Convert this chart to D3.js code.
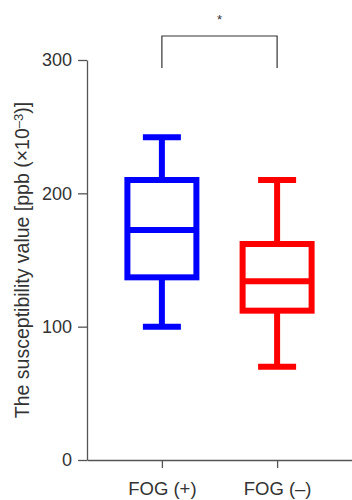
<!DOCTYPE html>
<html>
<head>
<meta charset="utf-8">
<script src="https://cdn.jsdelivr.net/npm/d3@7"></script>
<style>
  body { margin: 0; background: #fff; }
  svg { display: block; font-family: "Liberation Sans", Arial, Helvetica, sans-serif; }
</style>
</head>
<body>
<svg id="chart" width="352" height="500"></svg>
<script>
const GROUPS = ['FOG (+)', 'FOG (–)']
const COLORS = ['#0000ff', '#ff0000']
const MINS = [100, 70]
const Q1S = [137, 112]
const MEDIANS = [172.5, 134]
const Q3S = [210, 162]
const MAXS = [242, 210]
const Y_TICKS = [0, 100, 200, 300]
const BRACKET = { top: 318, bottom: 294, label: '*' }

const width = 352
const svg = d3.select('#chart')

const x = d3.scalePoint()
    .domain(GROUPS)
    .range([87, width])
    .padding(0.65)

const y = d3.scaleLinear()
    .domain([0, 300])
    .range([460, 60])

const axisColor = '#555'
const textColor = '#333'

// y axis
const yAxis = svg.append('g')
    .attr('transform', 'translate(87, 0)')
    .call(d3.axisLeft(y).tickValues(Y_TICKS).tickSize(9).tickPadding(6).tickSizeOuter(0))
yAxis.selectAll('path, line').attr('stroke', axisColor).attr('stroke-width', 1.3)
yAxis.selectAll('text').attr('fill', textColor).style('font-size', '18px')

// x axis
const xAxis = svg.append('g')
    .attr('transform', `translate(0, ${y(0)})`)
    .call(d3.axisBottom(x).tickSize(8).tickPadding(14).tickSizeOuter(0))
xAxis.selectAll('path, line').attr('stroke', axisColor).attr('stroke-width', 1.3)
xAxis.selectAll('text').attr('fill', textColor).style('font-size', '18.5px')

// y label
const label = svg.append('text')
    .attr('transform', `translate(29, ${(y(0) + y(300)) / 2}) rotate(-90)`)
    .attr('text-anchor', 'middle')
    .attr('fill', textColor)
    .style('font-size', '19.5px')
label.append('tspan').text('The susceptibility value [ppb (×10')
label.append('tspan').attr('dy', '-0.45em').style('font-size', '13px').text('–3')
label.append('tspan').attr('dy', '0.3em').text(')]')

// boxes
const boxW = 69
const capW = 38
const sw = 6
const boxes = svg.selectAll('.box')
    .data(GROUPS.map((g, i) => ({
        g, color: COLORS[i], min: MINS[i], q1: Q1S[i],
        med: MEDIANS[i], q3: Q3S[i], max: MAXS[i]
    })))
    .enter()
    .append('g')
        .attr('class', 'box')
        .attr('transform', d => `translate(${x(d.g)}, 0)`)
        .attr('stroke', d => d.color)
        .attr('stroke-width', sw)
        .attr('fill', 'none')

boxes.append('line')
    .attr('y1', d => y(d.max)).attr('y2', d => y(d.q3))
boxes.append('line')
    .attr('y1', d => y(d.q1)).attr('y2', d => y(d.min))
boxes.append('line')
    .attr('x1', -capW / 2).attr('x2', capW / 2)
    .attr('y1', d => y(d.max)).attr('y2', d => y(d.max))
boxes.append('line')
    .attr('x1', -capW / 2).attr('x2', capW / 2)
    .attr('y1', d => y(d.min)).attr('y2', d => y(d.min))
boxes.append('rect')
    .attr('x', -boxW / 2)
    .attr('width', boxW)
    .attr('y', d => y(d.q3))
    .attr('height', d => y(d.q1) - y(d.q3))
boxes.append('line')
    .attr('x1', -boxW / 2).attr('x2', boxW / 2)
    .attr('y1', d => y(d.med)).attr('y2', d => y(d.med))

// significance bracket
const [xa, xb] = GROUPS.map(g => x(g))
svg.append('path')
    .attr('d', `M${xa},${y(BRACKET.bottom)}V${y(BRACKET.top)}H${xb}V${y(BRACKET.bottom)}`)
    .attr('fill', 'none')
    .attr('stroke', '#333')
    .attr('stroke-width', 1.2)
svg.append('text')
    .attr('x', (xa + xb) / 2)
    .attr('y', 24)
    .attr('text-anchor', 'middle')
    .attr('fill', '#333')
    .style('font-size', '13px')
    .text(BRACKET.label)
</script>
</body>
</html>
